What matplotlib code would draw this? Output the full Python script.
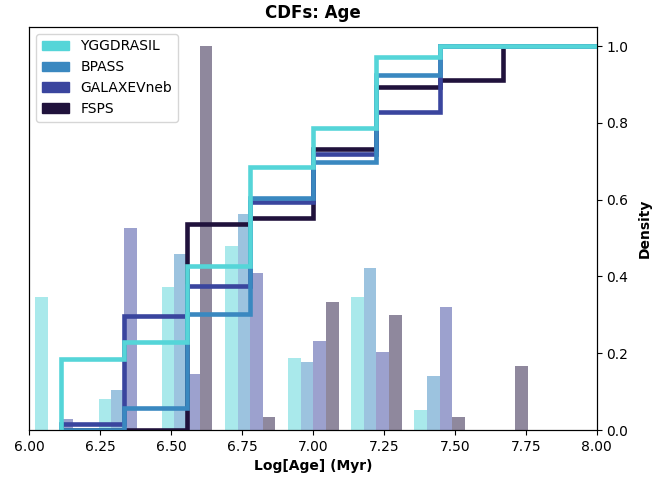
import numpy as np
import matplotlib
matplotlib.use("Agg")
import matplotlib.pyplot as plt
from matplotlib.patches import Patch

# log age bins (Myr) and number of objects per bin for each model
bin_edges = np.linspace(6.0, 7.78, 9)
models = ["YGGDRASIL", "BPASS", "GALAXEVneb", "FSPS"]
colors = ["#55d5d8", "#3a88c0", "#3a459e", "#20123c"]
yggdrasil = [13, 3, 14, 18, 7, 13, 2, 0]
bpass = [0, 3, 13, 16, 5, 12, 4, 0]
galaxev = [1, 18, 5, 14, 8, 7, 11, 0]
fsps = [0, 0, 30, 1, 10, 9, 1, 5]
counts = [yggdrasil, bpass, galaxev, fsps]

width = bin_edges[1] - bin_edges[0]
centers = bin_edges[:-1] + width / 2

fig, ax1 = plt.subplots(figsize=(6.63, 4.79), dpi=100)
fig.subplots_adjust(left=0.044, right=0.9, top=0.944, bottom=0.102)

# histograms (density) on the left axis
dens = [np.array(c) / (np.sum(c) * width) for c in counts]
ax1.hist([centers] * 4, bins=bin_edges, weights=dens, histtype='bar',
         color=colors, alpha=0.5)
ax1.set_yticks([])
ax1.set_ylim(0, max(d.max() for d in dens) * 1.05)
ax1.set_xlim(6.0, 8.0)
ax1.set_xticks(np.arange(6.0, 8.01, 0.25))
ax1.set_xticklabels(["%.2f" % t for t in np.arange(6.0, 8.01, 0.25)])
ax1.set_xlabel("Log[Age] (Myr)", fontweight='bold')

# CDFs on the right axis
ax2 = ax1.twinx()
step_edges = np.append(centers, 8.3)
for c, col in reversed(list(zip(counts, colors))):
    cdf = np.cumsum(c) / np.sum(c)
    ax2.stairs(cdf, step_edges, baseline=0, color=col, linewidth=3.3)
ax2.set_ylim(0, 1.05)
ax2.set_xlim(6.0, 8.0)
ax2.set_ylabel("Density", fontweight='bold', labelpad=7)

handles = [Patch(color=col, label=m) for m, col in zip(models, colors)]
ax1.legend(handles=handles, loc='upper left')
ax1.set_title("CDFs: Age", fontweight='bold')

fig.savefig("out.png", dpi=100)
